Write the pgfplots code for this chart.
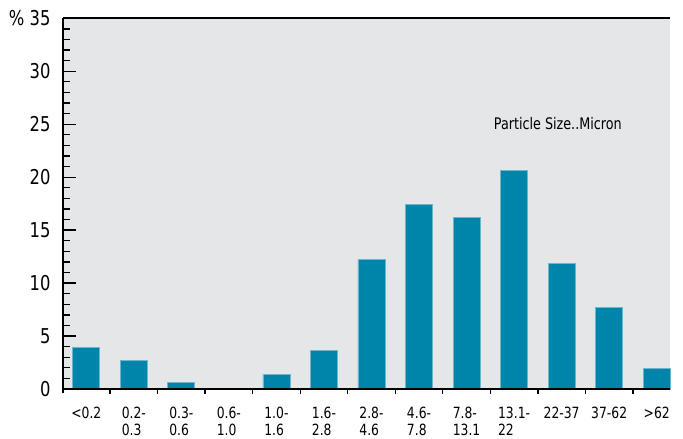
\documentclass[border=0pt]{standalone}
\usepackage{pgfplots}
\pgfplotsset{compat=1.18}
\usepackage{fontspec}
\setmainfont{DejaVu Sans}[FakeStretch=0.8]
\definecolor{barblue}{RGB}{0,133,170}
\definecolor{baredge}{RGB}{110,182,206}
\definecolor{bggray}{RGB}{229,230,232}
\begin{document}
\begin{tikzpicture}[x=1bp,y=1bp]
\path (0,0) rectangle (683,433);
\begin{axis}[
  at={(63bp,44bp)}, anchor=south west,
  width=607bp, height=370.7bp, scale only axis,
  xmin=-0.49, xmax=12.28, ymin=0, ymax=35,
  axis background/.style={fill=bggray},
  axis line style={draw=none},
  ytick={0,5,...,35}, yticklabels={0,5,10,15,20,25,30,\% 35},
  minor y tick num=4,
  ytick pos=left, tick align=inside,
  major tick length=13bp, minor tick length=7bp,
  tick style={black, line width=1.3bp},
  xtick={0,...,12},
  xticklabels={{<0.2},{0.2-\\0.3},{0.3-\\0.6},{0.6-\\1.0},{1.0-\\1.6},{1.6-\\2.8},{2.8-\\4.6},{4.6-\\7.8},{7.8-\\13.1},{13.1-\\22},{22-37},{37-62},{>62}},
  x tick style={draw=none},
  x tick label style={align=left, font=\fontsize{15.5}{16.5}\selectfont, anchor=north, yshift=-2bp},
  y tick label style={font=\fontsize{20.5}{22}\selectfont, xshift=-9bp},
  /pgf/number format/assume math mode=true,
  ybar, bar width=27bp,
  clip=false,
]
\addplot[fill=barblue, draw=baredge, line width=0.8bp] coordinates {
  (0,3.94) (1,2.67) (2,0.66) (3,0) (4,1.35) (5,3.68) (6,12.25)
  (7,17.44) (8,16.21) (9,20.65) (10,11.87) (11,7.74) (12,1.95)};
\draw[black, line width=2bp] (rel axis cs:0,0) -- (rel axis cs:1,0);
\draw[black, line width=2bp] (rel axis cs:0,1) -- (rel axis cs:1,1);
\draw[black, line width=2bp] ([yshift=-4bp]rel axis cs:0,0) -- (rel axis cs:0,1);
\pgfplotsinvokeforeach{0.5,1.5,...,11.5}{\draw[black, line width=1.3bp] (axis cs:#1,0) -- ++(0pt,-5bp);}
\node[font=\fontsize{16}{17}\selectfont] at (axis cs:9.92,25.1) {Particle Size..Micron};
\end{axis}
\end{tikzpicture}
\end{document}
